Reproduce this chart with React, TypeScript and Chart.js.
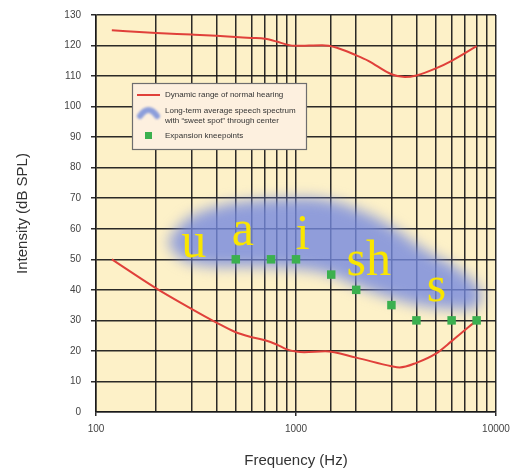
import React, { useEffect, useRef } from 'react';
import { Chart, registerables } from 'chart.js';

// ---------- data ----------
const upperFreq = [120, 200, 300, 400, 500, 600, 700, 800, 900, 1000, 1350, 1600, 2000, 2300, 3000, 3500, 4000, 5000, 6000, 8000];
const upperLevel = [125, 124.1, 123.6, 123.2, 122.8, 122.5, 122.2, 121.3, 120.3, 119.9, 120.1, 119.3, 116.8, 115, 110.6, 109.7, 110.2, 112.5, 115, 119.8];
const lowerFreq = [120, 200, 300, 400, 500, 600, 700, 800, 900, 1000, 1100, 1400, 2000, 3000, 3300, 4000, 5000, 6000, 8000];
const lowerLevel = [50, 40.5, 33.8, 29.3, 26.1, 24.5, 23.5, 22.1, 20.5, 19.8, 19.6, 19.9, 17.8, 15, 14.6, 16.1, 19.1, 23.2, 30];
const kneeFreq = [500, 750, 1000, 1500, 2000, 3000, 4000, 6000, 8000];
const kneeLevel = [50, 50, 50, 45, 40, 35, 30, 30, 30];
// outline of the long-term average speech spectrum (top edge left->right, bottom edge right->left)
const speechFreq = [228, 255, 300, 420, 570, 960, 1400, 2030, 2950, 4300, 6400, 7800, 8500, 7800, 6400, 4300, 2950, 2030, 1400, 960, 570, 420, 300, 255];
const speechLevel = [55.5, 60, 64, 67.5, 69, 70, 69.5, 66.3, 61, 53.5, 47, 42.5, 38, 34, 33.7, 34.8, 37.5, 41.3, 45.5, 47, 47.6, 47.6, 48.8, 51];
const phonemes = ['u', 'a', 'i', 'sh', 's'];
const phonemeFreq = [308, 543, 1080, 2310, 5035];
const phonemeLevel = [50.8, 54.6, 53.5, 44.8, 36.4];
const xLabelTicks = [100, 1000, 10000];
const legendLabels = [
  'Dynamic range of normal hearing',
  'Long-term average speech spectrum',
  'with \u201csweet spot\u201d through center',
  'Expansion kneepoints',
];

const zip = (xs: number[], ys: number[]) => xs.map((x, i) => ({ x, y: ys[i] }));

const RED = '#e0403a';
const BLUE = 'rgba(116,136,222,0.8)';
const GREEN = '#3bb04f';
const GRID = 'rgba(25,25,25,0.92)';
const BLOB_INDEX = 0;

const isMajor = (v: number) => xLabelTicks.includes(Math.round(v));

const bgPlugin = {
  id: 'areaBg',
  beforeDraw(chart: any) {
    const { ctx, chartArea: a } = chart;
    ctx.save();
    ctx.fillStyle = '#fdf1c8';
    ctx.fillRect(a.left, a.top, a.right - a.left, a.bottom - a.top);
    ctx.restore();
  },
};

const blurPlugin = {
  id: 'speechBlur',
  beforeDatasetsDraw(chart: any) {
    chart.ctx.save();
    chart.ctx.filter = 'blur(7px)';
  },
  afterDatasetDraw(chart: any, args: any) {
    if (args.index === BLOB_INDEX) chart.ctx.restore();
  },
};

const phonemePlugin = {
  id: 'phonemes',
  afterDatasetsDraw(chart: any) {
    const { ctx, scales } = chart;
    ctx.save();
    ctx.font = "50px 'Liberation Serif', 'Times New Roman', serif";
    ctx.fillStyle = '#f9e600';
    ctx.textAlign = 'center';
    ctx.textBaseline = 'alphabetic';
    phonemes.forEach((p, i) => {
      ctx.fillText(p, scales.x.getPixelForValue(phonemeFreq[i]), scales.y.getPixelForValue(phonemeLevel[i]));
    });
    ctx.restore();
  },
};

const legendPlugin = {
  id: 'customLegend',
  afterDraw(chart: any) {
    const { ctx, chartArea: a } = chart;
    const x0 = Math.round(a.left + 36);
    const y0 = Math.round(a.top + 68);
    const w = 174;
    const h = 66;
    ctx.save();
    ctx.fillStyle = '#fdf0df';
    ctx.fillRect(x0, y0, w, h);
    ctx.strokeStyle = '#6e6e6e';
    ctx.lineWidth = 1.2;
    ctx.strokeRect(x0 + 0.5, y0 + 0.5, w, h);
    // red line
    ctx.strokeStyle = RED;
    ctx.lineWidth = 2;
    ctx.beginPath();
    ctx.moveTo(x0 + 5, y0 + 12);
    ctx.lineTo(x0 + 28, y0 + 12);
    ctx.stroke();
    // blob icon
    ctx.save();
    ctx.filter = 'blur(0.8px)';
    ctx.strokeStyle = '#8d9edb';
    ctx.lineWidth = 6;
    ctx.lineCap = 'round';
    ctx.beginPath();
    ctx.moveTo(x0 + 8, y0 + 33);
    ctx.quadraticCurveTo(x0 + 16.5, y0 + 21, x0 + 25, y0 + 33);
    ctx.stroke();
    ctx.restore();
    // green square
    ctx.fillStyle = GREEN;
    ctx.fillRect(x0 + 13, y0 + 49, 7, 7);
    // texts
    ctx.fillStyle = '#333';
    ctx.font = "8px 'Liberation Sans', Arial, sans-serif";
    ctx.textAlign = 'left';
    ctx.textBaseline = 'middle';
    ctx.fillText(legendLabels[0], x0 + 33, y0 + 12);
    ctx.fillText(legendLabels[1], x0 + 33, y0 + 28);
    ctx.fillText(legendLabels[2], x0 + 33, y0 + 38);
    ctx.fillText(legendLabels[3], x0 + 33, y0 + 53);
    ctx.restore();
  },
};

export default function App() {
  const ref = useRef<HTMLCanvasElement>(null);
  useEffect(() => {
    Chart.register(...registerables);
    Chart.defaults.font.family = "'Liberation Sans', Arial, sans-serif";
    const chart = new Chart(ref.current as HTMLCanvasElement, {
      type: 'scatter',
      data: {
        datasets: [
          {
            label: 'speech',
            data: zip(speechFreq, speechLevel),
            showLine: true,
            borderWidth: 0,
            pointRadius: 0,
            tension: 0.4,
            fill: 'shape',
            backgroundColor: BLUE,
            borderColor: 'rgba(0,0,0,0)',
            order: 10,
          } as any,
          {
            label: 'upper',
            data: zip(upperFreq, upperLevel),
            showLine: true,
            borderColor: RED,
            borderWidth: 2,
            pointRadius: 0,
            cubicInterpolationMode: 'monotone',
            order: 5,
          },
          {
            label: 'lower',
            data: zip(lowerFreq, lowerLevel),
            showLine: true,
            borderColor: RED,
            borderWidth: 2,
            pointRadius: 0,
            cubicInterpolationMode: 'monotone',
            order: 4,
          },
          {
            label: 'knee',
            data: zip(kneeFreq, kneeLevel),
            pointStyle: 'rect',
            pointRadius: 6,
            pointBorderWidth: 0,
            backgroundColor: GREEN,
            borderColor: GREEN,
            order: 1,
          },
        ],
      },
      options: {
        animation: false,
        responsive: false,
        devicePixelRatio: 1,
        layout: { padding: { top: 15, right: 18, left: 0, bottom: 0 } },
        plugins: { legend: { display: false }, tooltip: { enabled: false } },
        events: [],
        scales: {
          x: {
            type: 'logarithmic',
            min: 100,
            max: 10000,
            position: 'bottom',
            afterFit: (s: any) => { s.height = 58; s.paddingLeft = 0; s.paddingRight = 0; },
            border: { display: true, color: GRID, width: 1.5 },
            grid: {
              color: GRID,
              lineWidth: 1.5,
              tickLength: 4,
              tickColor: (c: any) => (c.tick && isMajor(c.tick.value) ? GRID : 'rgba(0,0,0,0)'),
            },
            ticks: {
              autoSkip: false,
              maxRotation: 0,
              padding: 7,
              color: '#444',
              font: { size: 10 },
              callback: (v: any) => (isMajor(Number(v)) ? String(Math.round(Number(v))) : ''),
            },
            title: {
              display: true,
              text: 'Frequency (Hz)',
              color: '#333',
              font: { size: 15 },
              padding: { top: 0, bottom: 0 },
            },
          },
          y: {
            min: 0,
            max: 130,
            afterFit: (s: any) => { s.width = 96; s.paddingTop = 0; s.paddingBottom = 0; },
            border: { display: true, color: GRID, width: 1.5 },
            grid: {
              color: GRID,
              lineWidth: 1.5,
              tickLength: 5,
              tickColor: (c: any) => (c.tick && c.tick.value === 0 ? 'rgba(0,0,0,0)' : GRID),
            },
            ticks: { stepSize: 10, padding: 10, color: '#444', font: { size: 10 } },
            title: {
              display: true,
              text: 'Intensity (dB SPL)',
              color: '#333',
              font: { size: 15 },
              padding: { top: 14, bottom: 0 },
            },
          },
        },
      } as any,
      plugins: [bgPlugin, blurPlugin, phonemePlugin, legendPlugin],
    });
    return () => chart.destroy();
  }, []);
  return (
    <div style={{ position: 'fixed', left: 0, top: 0, width: 514, height: 470, background: '#fff' }}>
      <canvas ref={ref} width={514} height={470} style={{ display: 'block' }} />
    </div>
  );
}
